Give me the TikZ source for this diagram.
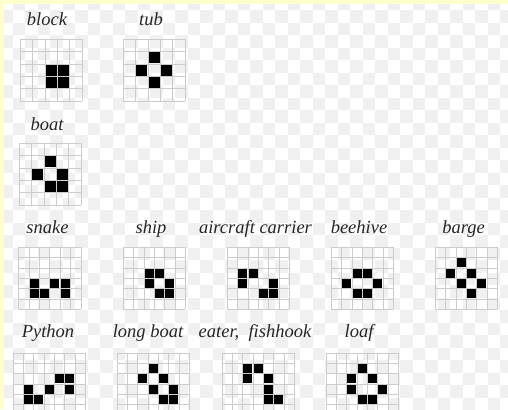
\documentclass[tikz,border=0pt]{standalone}
\usepackage{fontspec}
\setmainfont{Liberation Serif}
\definecolor{bgyel}{HTML}{FFFFCC}
\definecolor{chk}{HTML}{F0F0F0}
\definecolor{gridc}{HTML}{CCCCCC}
\definecolor{txtc}{HTML}{262626}
\newcommand{\lifegrid}[5]{%
  \begin{scope}[shift={(#1,#2)}]
    \foreach \k in {0,...,#3} {
      \draw[gridline] (\k*#4,0) -- (\k*#4,#3*#4);
      \draw[gridline] (0,\k*#4) -- (#3*#4,\k*#4);
    }
    \foreach \c/\r in {#5}
      \fill[cellfill] (\c*#4+0.7,\r*#4+0.7) rectangle ++(#4-1.4,#4-1.4);
  \end{scope}}
\begin{document}
\begin{tikzpicture}[x=1bp,y=-1bp,
  lbl/.style={font=\fontsize{18.5bp}{20bp}\selectfont\itshape, text=txtc, anchor=base, inner sep=0pt},
  gridline/.style={draw=gridc, line width=0.6bp},
  cellfill/.style={fill=black}]
\useasboundingbox (0,0) rectangle (508,409);
\clip (0,0) rectangle (508,409);
\fill[white] (0,0) rectangle (508,409);
\foreach \i in {0,...,40} {
  \foreach \j in {0,...,33} {
    \pgfmathtruncatemacro{\chkodd}{mod(\i+\j,2)}
    \ifnum\chkodd=1 \fill[chk] (\i*12.5,\j*12.5-2.5) rectangle ++(12.5,12.5); \fi
  }
}
\fill[bgyel] (0,0) rectangle (508,4);
\fill[bgyel] (0,0) rectangle (4,409);
% grids
\lifegrid{20}{39}{5}{12.4}{2/2,3/2,2/3,3/3}
\lifegrid{123}{39}{5}{12.4}{2/1,1/2,3/2,2/3}
\lifegrid{19}{143}{5}{12.4}{2/1,1/2,3/2,2/3,3/3}
\lifegrid{18.5}{247}{6}{10.4}{1/3,3/3,4/3,1/4,2/4,4/4}
\lifegrid{123}{247}{6}{10.4}{2/2,3/2,2/3,4/3,3/4,4/4}
\lifegrid{227}{247}{6}{10.4}{1/2,2/2,1/3,4/3,3/4,4/4}
\lifegrid{331}{247}{6}{10.4}{2/2,3/2,1/3,4/3,2/4,3/4}
\lifegrid{435}{247}{6}{10.4}{2/1,1/2,3/2,2/3,4/3,3/4}
\lifegrid{13}{353}{7}{10.35}{4/2,5/2,1/3,3/3,5/3,1/4,2/4}
\lifegrid{117}{353}{7}{10.35}{3/1,2/2,4/2,3/3,5/3,4/4,5/4}
\lifegrid{222}{353}{7}{10.3}{2/1,3/1,2/2,4/2,4/3,4/4,5/4}
\lifegrid{326}{353}{7}{10.3}{3/1,2/2,4/2,2/3,5/3,3/4,4/4}
% labels
\node[lbl] (lblock) at (47,25) {block};
\node[lbl] (ltub) at (151,25) {tub};
\node[lbl] (lboat) at (47,130) {boat};
\node[lbl] (lsnake) at (47.5,233) {snake};
\node[lbl] (lship) at (151,233) {ship};
\node[lbl] (lcarrier) at (255.5,233) {aircraft carrier};
\node[lbl] (lbeehive) at (359,233) {beehive};
\node[lbl] (lbarge) at (463.5,233) {barge};
\node[lbl] (lpython) at (48,337) {Python};
\node[lbl] (llongboat) at (148,337) {long boat};
\node[lbl] (leater) at (255,337) {eater,\ \ fishhook};
\node[lbl] (lloaf) at (359,337) {loaf};
\end{tikzpicture}
\end{document}
